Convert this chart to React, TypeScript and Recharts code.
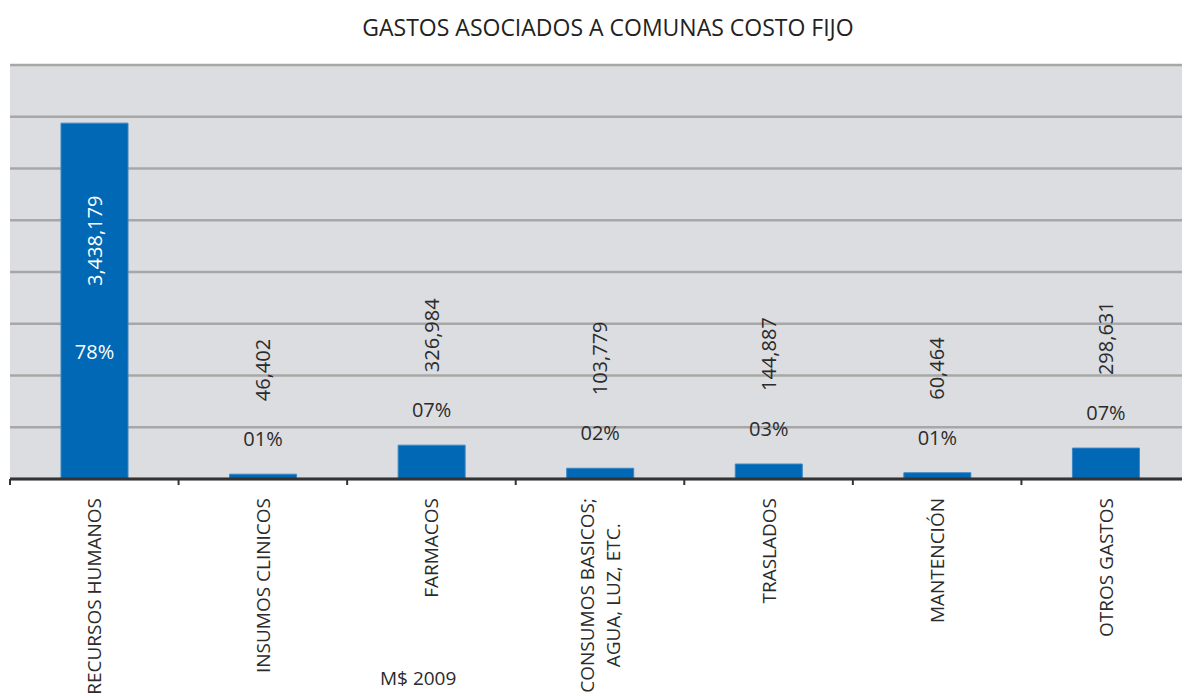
import React from 'react';
import { BarChart, Bar, XAxis, YAxis, CartesianGrid } from 'recharts';

const categories = [
  'RECURSOS HUMANOS',
  'INSUMOS CLINICOS',
  'FARMACOS',
  'CONSUMOS BASICOS;\nAGUA, LUZ, ETC.',
  'TRASLADOS',
  'MANTENCIÓN',
  'OTROS GASTOS',
];
const amounts = [3438179, 46402, 326984, 103779, 144887, 60464, 298631];
const shares = [78, 1, 7, 2, 3, 1, 7];
const yTicks = [0, 500000, 1000000, 1500000, 2000000, 2500000, 3000000, 3500000, 4000000];

const data = categories.map((name, i) => ({ name, amount: amounts[i], share: shares[i] }));

const CHART_W = 1200;
const CHART_H = 695;
const MARGIN = { top: 65, right: 10, left: 10, bottom: 0 };
const PLOT_W = CHART_W - MARGIN.left - MARGIN.right;
const FONT = '"Open Sans", sans-serif';
const TEXT = '#2b2b2b';
const TICK_FONT = 19;

let ctx: CanvasRenderingContext2D | null = null;
const measure = (s: string) => {
  if (!ctx) ctx = document.createElement('canvas').getContext('2d');
  if (!ctx) return s.length * TICK_FONT * 0.6;
  ctx.font = `${TICK_FONT}px "Open Sans"`;
  return ctx.measureText(s).width;
};

const CategoryTick = (props: any) => {
  const { x, y, payload } = props;
  const band = PLOT_W / categories.length;
  const left = x - band / 2;
  const lines = String(payload.value).split('\n');
  const top = y + 19;
  const blockLen = Math.max(...lines.map(measure));
  const mid = top + blockLen / 2;
  return (
    <g>
      <line x1={left} x2={left} y1={y} y2={y + 6} stroke="#333" strokeWidth={2} />
      {lines.map((line, i) => {
        const tx = x + 7 + (i - (lines.length - 1) / 2) * 26;
        const single = lines.length === 1;
        const ty = single ? top : mid;
        return (
          <text
            key={i}
            x={tx}
            y={ty}
            transform={`rotate(-90, ${tx}, ${ty})`}
            textAnchor={single ? 'end' : 'middle'}
            fontSize={TICK_FONT}
            fontFamily={FONT}
            fill={TEXT}
          >
            {line}
          </text>
        );
      })}
    </g>
  );
};

const renderBarLabel = (props: any) => {
  const { x, y, width, height, index } = props;
  const cx = x + width / 2;
  const amountText = amounts[index].toLocaleString('en-US');
  const shareText = String(shares[index]).padStart(2, '0') + '%';
  const inside = height > 200;
  const bottom = y + height;
  const valueY = inside ? bottom - 193 : y - 73;
  const shareY = inside ? bottom - 120 : y - 28;
  const color = inside ? '#ffffff' : TEXT;
  return (
    <g>
      <text
        x={cx + 7}
        y={valueY}
        transform={`rotate(-90, ${cx + 7}, ${valueY})`}
        textAnchor="start"
        fontSize={20}
        fontFamily={FONT}
        fill={color}
      >
        {amountText}
      </text>
      <text x={cx} y={shareY} textAnchor="middle" fontSize={20} fontFamily={FONT} fill={color}>
        {shareText}
      </text>
    </g>
  );
};

const NoTick = () => <g />;

export default function App() {
  return (
    <div
      style={{
        position: 'absolute',
        left: 0,
        top: 0,
        width: 1182,
        height: CHART_H,
        overflow: 'hidden',
        background: '#ffffff',
      }}
    >
      <div
        style={{
          position: 'absolute',
          top: 11,
          left: 0,
          width: 1216,
          textAlign: 'center',
          fontFamily: FONT,
          fontSize: 23,
          color: '#222',
          lineHeight: '32px',
        }}
      >
        GASTOS ASOCIADOS A COMUNAS COSTO FIJO
      </div>
      <BarChart width={CHART_W} height={CHART_H} data={data} margin={MARGIN} barSize={67}>
        <CartesianGrid
          horizontal
          vertical={false}
          fill="#dcdde0"
          fillOpacity={1}
          stroke="#a7a7a7"
          strokeWidth={2.5}
        />
        <YAxis
          domain={[0, 4000000]}
          ticks={yTicks}
          width={0}
          tick={<NoTick />}
          tickLine={false}
          axisLine={{ stroke: '#333', strokeWidth: 2 }}
        />
        <XAxis
          dataKey="name"
          height={CHART_H - 479}
          interval={0}
          tickSize={0}
          tickMargin={0}
          tickLine={false}
          tick={<CategoryTick />}
          axisLine={{ stroke: '#333', strokeWidth: 3 }}
        />
        <Bar
          dataKey="amount"
          fill="#0068b4"
          stroke="#3a86c4"
          strokeWidth={1}
          isAnimationActive={false}
          label={renderBarLabel}
        />
      </BarChart>
      <div
        style={{
          position: 'absolute',
          left: 380,
          top: 665,
          fontFamily: FONT,
          fontSize: 19,
          color: TEXT,
          lineHeight: '26px',
        }}
      >
        M$ 2009
      </div>
    </div>
  );
}
